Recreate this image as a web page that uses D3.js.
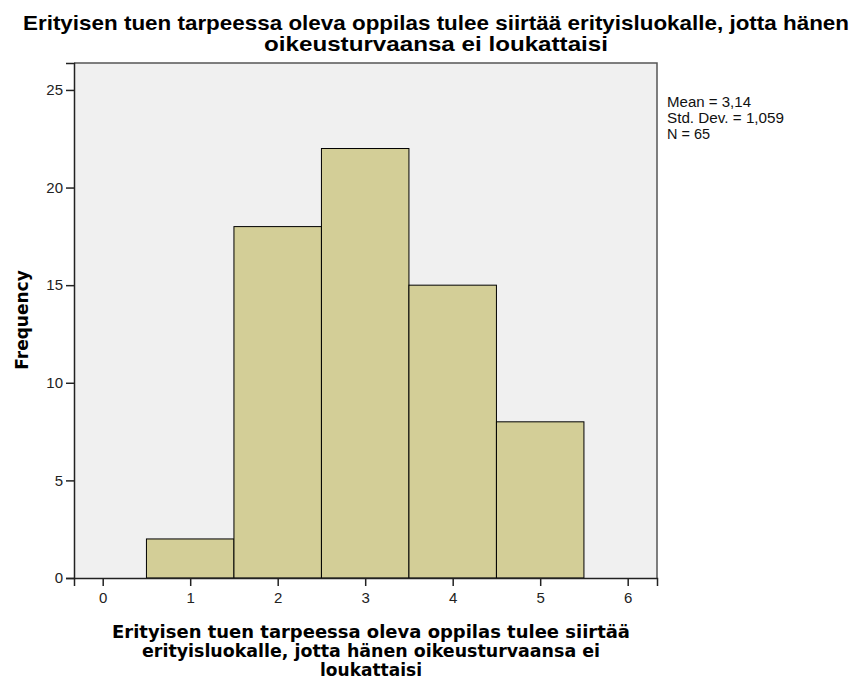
<!DOCTYPE html>
<html>
<head>
<meta charset="utf-8">
<script src="https://cdn.jsdelivr.net/npm/d3@7"></script>
<style>
  html, body { margin: 0; padding: 0; background: #ffffff; }
  svg { display: block; }
</style>
</head>
<body>
<svg id="chart" width="854" height="683"></svg>
<script>
// ---- data ----
const binCenters = [1, 2, 3, 4, 5];
const frequencies = [2, 18, 22, 15, 8];
const binWidth = 1;
const xTicks = [0, 1, 2, 3, 4, 5, 6];
const yTicks = [0, 5, 10, 15, 20, 25];
const titleLines = ["Erityisen tuen tarpeessa oleva oppilas tulee siirtää erityisluokalle, jotta hänen", "oikeusturvaansa ei loukattaisi"];
const xTitleLines = ["Erityisen tuen tarpeessa oleva oppilas tulee siirtää", "erityisluokalle, jotta hänen oikeusturvaansa ei", "loukattaisi"];
const yTitle = "Frequency";
const statsLines = ["Mean = 3,14", "Std. Dev. = 1,059", "N = 65"];

// ---- layout ----
const svg = d3.select("#chart");
const plot = { left: 74, right: 657, top: 63, bottom: 578 };

const x = d3.scaleLinear().domain([-0.328, 6.335]).range([plot.left, plot.right]);
const y = d3.scaleLinear().domain([0, 26.38]).range([plot.bottom, plot.top]);

// background
svg.append("rect")
  .attr("x", plot.left).attr("y", plot.top)
  .attr("width", plot.right - plot.left).attr("height", plot.bottom - plot.top)
  .attr("fill", "#f0f0f0");

// bars
svg.append("g").selectAll("rect")
  .data(binCenters.map((c, i) => ({ c, f: frequencies[i] })))
  .join("rect")
  .attr("x", d => x(d.c - binWidth / 2))
  .attr("y", d => y(d.f))
  .attr("width", d => x(d.c + binWidth / 2) - x(d.c - binWidth / 2))
  .attr("height", d => y(0) - y(d.f))
  .attr("fill", "#d3ce97")
  .attr("stroke", "#000")
  .attr("stroke-width", 1);

// frame top/right
svg.append("path")
  .attr("d", `M${plot.left},${plot.top}H${plot.right}V${plot.bottom}`)
  .attr("fill", "none").attr("stroke", "#555").attr("stroke-width", 1.5);

const tickFont = "Liberation Sans, Arial, sans-serif";

// axes
const yAxis = d3.axisLeft(y).tickValues(yTicks).tickFormat(d3.format("d")).tickSize(8).tickPadding(3);
const gy = svg.append("g").attr("transform", `translate(${plot.left},0)`).call(yAxis);
gy.select(".domain").attr("stroke", "#222").attr("stroke-width", 1.5);
gy.selectAll(".tick line").attr("stroke", "#222").attr("stroke-width", 1.5);
gy.selectAll("text").attr("font-family", tickFont).attr("font-size", 15).attr("fill", "#222");

const xAxis = d3.axisBottom(x).tickValues(xTicks).tickFormat(d3.format("d")).tickSize(8).tickPadding(6);
const gx = svg.append("g").attr("transform", `translate(0,${plot.bottom})`).call(xAxis);
gx.select(".domain").attr("stroke", "#222").attr("stroke-width", 1.5);
gx.selectAll(".tick line").attr("stroke", "#222").attr("stroke-width", 1.5);
gx.selectAll("text").attr("font-family", tickFont).attr("font-size", 15).attr("fill", "#222");

// title
const tLens = [826, 344];
svg.append("g").selectAll("text")
  .data(titleLines)
  .join("text")
  .attr("x", 436)
  .attr("y", (d, i) => 30 + i * 21)
  .attr("text-anchor", "middle")
  .attr("font-family", "Liberation Sans, Arial, sans-serif")
  .attr("font-weight", "bold")
  .attr("font-size", 21)
  .attr("textLength", (d, i) => tLens[i])
  .attr("lengthAdjust", "spacingAndGlyphs")
  .text(d => d);

// x title
const xLens = [518, 458, 102];
svg.append("g").selectAll("text")
  .data(xTitleLines)
  .join("text")
  .attr("x", 371)
  .attr("y", (d, i) => 638 + i * 19)
  .attr("text-anchor", "middle")
  .attr("font-family", "DejaVu Sans, sans-serif")
  .attr("font-weight", "bold")
  .attr("font-size", 17)
  .attr("textLength", (d, i) => xLens[i])
  .attr("lengthAdjust", "spacingAndGlyphs")
  .text(d => d);

// y title
svg.append("text")
  .attr("transform", `translate(28,320) rotate(-90)`)
  .attr("text-anchor", "middle")
  .attr("font-family", "DejaVu Sans, sans-serif")
  .attr("font-weight", "bold")
  .attr("font-size", 17)
  .text(yTitle);

// stats
const sLens = [84, 117, 43];
svg.append("g").selectAll("text")
  .data(statsLines)
  .join("text")
  .attr("x", 667)
  .attr("y", (d, i) => 107 + i * 16)
  .attr("font-family", "Liberation Sans, Arial, sans-serif")
  .attr("font-size", 14)
  .attr("fill", "#111")
  .attr("textLength", (d, i) => sLens[i])
  .attr("lengthAdjust", "spacingAndGlyphs")
  .text(d => d);
</script>
</body>
</html>
